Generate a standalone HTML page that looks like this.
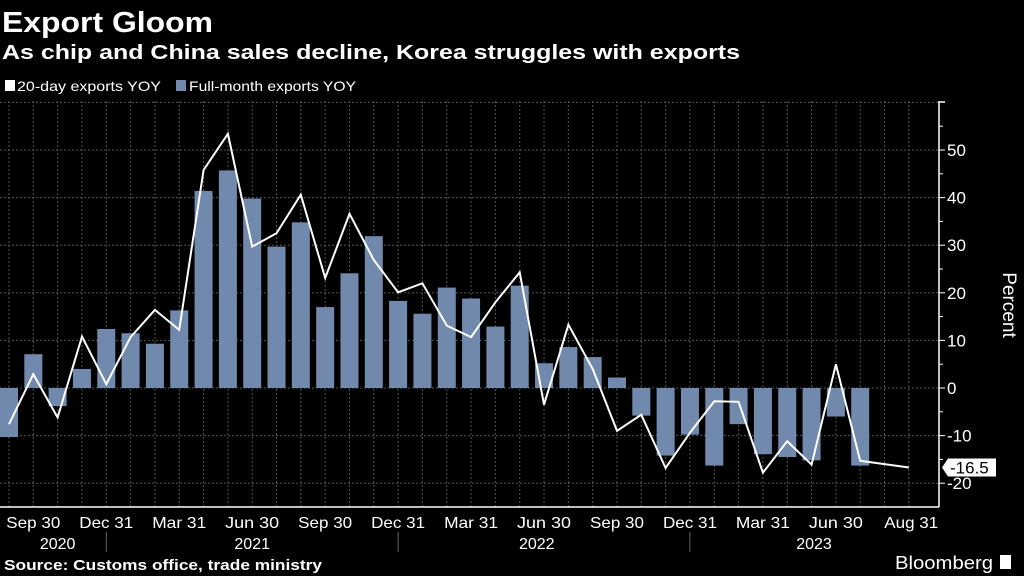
<!DOCTYPE html>
<html><head><meta charset="utf-8"><style>
html,body{margin:0;padding:0;background:#000;width:1024px;height:576px;overflow:hidden}
svg{display:block;font-family:"Liberation Sans",sans-serif}
</style></head><body>
<svg id="chart" width="1024" height="576" viewBox="0 0 1024 576">
<text x="2" y="32" fill="#fff" font-size="29" font-weight="bold" textLength="211" lengthAdjust="spacingAndGlyphs">Export Gloom</text>
<text x="2" y="59" fill="#fff" font-size="20" font-weight="bold" textLength="738" lengthAdjust="spacingAndGlyphs">As chip and China sales decline, Korea struggles with exports</text>
<g>
<rect x="5" y="80" width="10" height="11" fill="#fff"/>
<text x="17" y="91" fill="#fff" font-size="14" textLength="144" lengthAdjust="spacingAndGlyphs">20-day exports YOY</text>
<rect x="176" y="80" width="10" height="11" fill="#7189ac"/>
<text x="189" y="91" fill="#fff" font-size="14" textLength="167" lengthAdjust="spacingAndGlyphs">Full-month exports YOY</text>
</g>
<g id="grid"></g>
<g id="bars"></g>
<g id="line"></g>
<g id="yaxis"></g>
<g id="xaxis"></g>
<text x="0" y="0" fill="#fff" font-size="19" transform="translate(1003,305) rotate(90)" text-anchor="middle">Percent</text>
<text x="4" y="570" fill="#fff" font-size="15" font-weight="bold" textLength="318" lengthAdjust="spacingAndGlyphs">Source: Customs office, trade ministry</text>
<text x="895" y="569" fill="#fff" font-size="18" textLength="98" lengthAdjust="spacingAndGlyphs">Bloomberg</text>
<rect x="1000" y="555" width="11" height="14" fill="#fff"/>
</svg>
<script>
const fullMonth = [-10.3,7.1,-3.8,4.0,12.4,11.5,9.3,16.3,41.4,45.7,39.8,29.7,34.8,17.0,24.1,31.9,18.3,15.6,21.1,18.8,12.9,21.5,5.2,8.6,6.5,2.2,-5.8,-14.2,-9.8,-16.3,-7.6,-13.9,-14.5,-15.2,-6.0,-16.3,null,null];
const twentyDay = [-7.6,2.9,-6.2,10.8,0.8,10.7,16.4,12.2,45.8,53.4,29.7,32.5,40.6,23.1,36.6,26.9,20.1,22.0,13.1,10.7,18,24.3,-3.5,13.3,4.0,-9.0,-5.6,-16.8,-9.4,-2.8,-2.9,-17.8,-11.2,-16.1,5.0,-15.3,null,-16.7];
const yTicks = [50,40,30,20,10,0,-10,-20];
const xLabels = ["Sep 30","Dec 31","Mar 31","Jun 30","Sep 30","Dec 31","Mar 31","Jun 30","Sep 30","Dec 31","Mar 31","Jun 30","Aug 31"];
const xLabelIdx = [1,4,7,10,13,16,19,22,25,28,31,34,37.1];
const years = ["2020","2021","2022","2023"];
const yearIdx = [2,10,21.7,33.1];
const yearSepIdx = [4,16,28];
const lastLabel = "-16.5";

const NS="http://www.w3.org/2000/svg";
const X0=9, DX=24.32, Y0=388, K=4.76, TOP=101, BOT=507, AX=939;
const x=i=>X0+i*DX, y=v=>Y0-v*K;
function mk(tag,attrs,parent){const e=document.createElementNS(NS,tag);for(const k in attrs)e.setAttribute(k,attrs[k]);parent.appendChild(e);return e;}
const grid=document.getElementById('grid'),bars=document.getElementById('bars'),line=document.getElementById('line'),ya=document.getElementById('yaxis'),xa=document.getElementById('xaxis');
for(let i=0;i<twentyDay.length;i++){
  const g=mk('line',{x1:x(i),x2:x(i),y1:TOP,y2:BOT,stroke:'#555','stroke-width':1,'stroke-dasharray':'2,2'},grid);
  
  
}
for(let v=-20;v<=60;v+=10){
  if(y(v)<TOP)continue;
  const g=mk('line',{x1:0,x2:AX,y1:y(v),y2:y(v),stroke:'#555','stroke-width':1,'stroke-dasharray':'2,2'},grid);
  
  
}
fullMonth.forEach((v,i)=>{
  if(v===null)return;
  const r=mk('rect',{x:x(i)-9,y:Math.min(y(v),Y0),width:18,height:Math.abs(y(v)-Y0),fill:'#7189ac'},bars);
  
  
});
const pts=[];twentyDay.forEach((v,i)=>{if(v!==null)pts.push(x(i).toFixed(1)+','+y(v).toFixed(1));});
const pl=mk('polyline',{points:pts.join(' '),fill:'none',stroke:'#fff','stroke-width':2,'stroke-linejoin':'miter'},line);


const axl=mk('line',{x1:AX,x2:AX,y1:TOP,y2:BOT,stroke:'#fff','stroke-width':1.5},ya);


for(let v=-20;v<=55;v+=5){
  const t=mk('line',{x1:AX,x2:AX+(v%10===0?6:4),y1:y(v),y2:y(v),stroke:'#fff','stroke-width':1},ya);
  
  
}
const tt=mk('line',{x1:AX,x2:AX+6,y1:TOP+1,y2:TOP+1,stroke:'#fff','stroke-width':1.5},ya);


yTicks.forEach(v=>{
  const t=mk('text',{x:AX+8,y:y(v)+6,fill:'#fff','font-size':17},ya);
  t.textContent=(v<0?'-':'')+Math.abs(v);
  
  
});
const lv=twentyDay[twentyDay.length-1];
const lb=mk('path',{d:`M${AX+3},${y(lv)} L${AX+9},${y(lv)-9} L${AX+57},${y(lv)-9} L${AX+57},${y(lv)+9} L${AX+9},${y(lv)+9} Z`,fill:'#fff'},ya);


const lt=mk('text',{x:AX+11,y:y(lv)+6,fill:'#000','font-size':17},ya);
lt.textContent=lastLabel;


const xl=mk('line',{x1:0,x2:AX,y1:BOT,y2:BOT,stroke:'#fff','stroke-width':1.5},xa);


xLabels.forEach((s,k)=>{
  const t=mk('text',{x:x(xLabelIdx[k]),y:528,fill:'#fff','font-size':16,'text-anchor':'middle',textLength:54,lengthAdjust:'spacingAndGlyphs'},xa);
  t.textContent=s;
  
  
});
years.forEach((s,k)=>{
  const t=mk('text',{x:x(yearIdx[k]),y:549,fill:'#fff','font-size':16,'text-anchor':'middle'},xa);
  t.textContent=s;
  
  
});
yearSepIdx.forEach(i=>{
  const l=mk('line',{x1:x(i),x2:x(i),y1:532,y2:552,stroke:'#666','stroke-width':1},xa);
  
  
});
</script>
</body></html>
